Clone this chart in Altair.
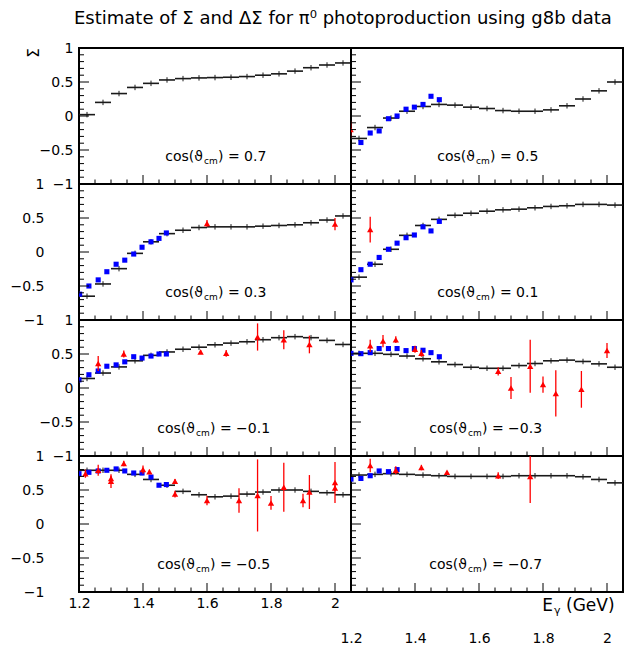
import altair as alt
import pandas as pd

FONT = "DejaVu Sans"
TITLE = "Estimate of Σ and ΔΣ for π⁰ photoproduction using g8b data"

# ---- data -------------------------------------------------------------
BIN_LO = [1.20, 1.25, 1.30, 1.35, 1.40, 1.45, 1.50, 1.55, 1.60,
          1.65, 1.70, 1.75, 1.80, 1.85, 1.90, 1.95, 2.00]
BIN_W = 0.05
HIST_ERR = [0.04, 0.04, 0.04, 0.04, 0.04, 0.04, 0.04, 0.04, 0.04,
            0.04, 0.04, 0.04, 0.04, 0.04, 0.04, 0.04, 0.04]

COS_LABELS = ["0.7", "0.5", "0.3", "0.1", "−0.1", "−0.3", "−0.5", "−0.7"]

HIST_P07 = [0.02, 0.20, 0.33, 0.42, 0.48, 0.53, 0.55, 0.56, 0.565, 0.57, 0.58, 0.60, 0.62, 0.66, 0.71, 0.75, 0.78]
HIST_P05 = [-0.33, -0.17, -0.03, 0.07, 0.14, 0.17, 0.16, 0.13, 0.11, 0.08, 0.07, 0.07, 0.09, 0.15, 0.25, 0.37, 0.50]
HIST_P03 = [-0.65, -0.47, -0.245, -0.02, 0.15, 0.27, 0.32, 0.36, 0.37, 0.37, 0.37, 0.38, 0.39, 0.40, 0.43, 0.47, 0.53]
HIST_P01 = [-0.37, -0.18, 0.04, 0.245, 0.39, 0.48, 0.54, 0.57, 0.60, 0.62, 0.63, 0.65, 0.67, 0.68, 0.70, 0.70, 0.69]
HIST_M01 = [0.14, 0.22, 0.31, 0.40, 0.48, 0.53, 0.57, 0.60, 0.635, 0.66, 0.68, 0.71, 0.74, 0.755, 0.74, 0.70, 0.64]
HIST_M03 = [0.51, 0.51, 0.495, 0.47, 0.43, 0.385, 0.345, 0.305, 0.29, 0.29, 0.33, 0.36, 0.40, 0.41, 0.39, 0.355, 0.305]
HIST_M05 = [0.79, 0.79, 0.79, 0.73, 0.655, 0.57, 0.48, 0.43, 0.40, 0.41, 0.44, 0.47, 0.50, 0.50, 0.48, 0.46, 0.43]
HIST_M07 = [0.72, 0.73, 0.74, 0.73, 0.72, 0.71, 0.70, 0.70, 0.70, 0.70, 0.71, 0.71, 0.71, 0.71, 0.695, 0.655, 0.605]

BLUE_X_P07 = []
BLUE_Y_P07 = []
BLUE_X_P05 = [1.231, 1.26, 1.288, 1.317, 1.344, 1.372, 1.398, 1.425, 1.45, 1.476]
BLUE_Y_P05 = [-0.39, -0.25, -0.22, -0.04, 0.0, 0.10, 0.13, 0.17, 0.29, 0.24]
BLUE_X_P03 = [1.202, 1.231, 1.26, 1.287, 1.316, 1.343, 1.371, 1.397, 1.425, 1.45, 1.473]
BLUE_Y_P03 = [-0.62, -0.50, -0.41, -0.29, -0.18, -0.12, -0.03, 0.07, 0.15, 0.20, 0.28]
BLUE_X_P01 = [1.2, 1.231, 1.26, 1.288, 1.317, 1.344, 1.372, 1.398, 1.425, 1.45, 1.476]
BLUE_Y_P01 = [-0.41, -0.26, -0.18, -0.08, 0.04, 0.13, 0.21, 0.25, 0.37, 0.31, 0.45]
BLUE_X_M01 = [1.2, 1.231, 1.26, 1.287, 1.316, 1.343, 1.371, 1.397, 1.425, 1.45, 1.473]
BLUE_Y_M01 = [0.12, 0.195, 0.25, 0.32, 0.34, 0.385, 0.46, 0.44, 0.47, 0.50, 0.50]
BLUE_X_M03 = [1.2, 1.231, 1.26, 1.288, 1.317, 1.344, 1.372, 1.398, 1.425, 1.45, 1.476]
BLUE_Y_M03 = [0.51, 0.505, 0.52, 0.58, 0.58, 0.58, 0.55, 0.58, 0.555, 0.52, 0.46]
BLUE_X_M05 = [1.2, 1.231, 1.26, 1.287, 1.316, 1.343, 1.371, 1.397, 1.425, 1.45, 1.473]
BLUE_Y_M05 = [0.74, 0.76, 0.78, 0.79, 0.81, 0.78, 0.75, 0.75, 0.69, 0.57, 0.58]
BLUE_X_M07 = [1.2, 1.231, 1.26, 1.288, 1.317, 1.344]
BLUE_Y_M07 = [0.66, 0.67, 0.71, 0.78, 0.77, 0.80]

RED_X_P07 = []
RED_Y_P07 = []
RED_E_P07 = []
RED_X_P05 = [1.199]
RED_Y_P05 = [-0.20]
RED_E_P05 = [0.12]
RED_X_P03 = [1.60, 2.00]
RED_Y_P03 = [0.42, 0.41]
RED_E_P03 = [0.05, 0.09]
RED_X_P01 = [1.26]
RED_Y_P01 = [0.33]
RED_E_P01 = [0.19]
RED_X_M01 = [1.26, 1.34, 1.58, 1.66, 1.758, 1.84, 1.92]
RED_Y_M01 = [0.36, 0.50, 0.53, 0.51, 0.75, 0.71, 0.64]
RED_E_M01 = [0.11, 0.05, 0.03, 0.05, 0.20, 0.14, 0.13]
RED_X_M03 = [1.26, 1.30, 1.34, 1.40, 1.42, 1.66, 1.70, 1.76, 1.80, 1.84, 1.92, 2.00]
RED_Y_M03 = [0.62, 0.69, 0.71, 0.57, 0.51, 0.245, 0.0, 0.32, 0.05, -0.08, -0.02, 0.55]
RED_E_M03 = [0.09, 0.09, 0.05, 0.05, 0.05, 0.06, 0.16, 0.39, 0.12, 0.34, 0.27, 0.11]
RED_X_M05 = [1.22, 1.26, 1.30, 1.30, 1.34, 1.40, 1.42, 1.50, 1.50, 1.60, 1.70, 1.758, 1.80, 1.84, 1.90, 1.92, 2.00, 2.00]
RED_Y_M05 = [0.74, 0.79, 0.63, 0.67, 0.89, 0.80, 0.77, 0.63, 0.44, 0.345, 0.345, 0.42, 0.31, 0.54, 0.345, 0.47, 0.61, 0.53]
RED_E_M05 = [0.06, 0.08, 0.10, 0.04, 0.04, 0.06, 0.03, 0.03, 0.05, 0.07, 0.18, 0.53, 0.10, 0.36, 0.10, 0.25, 0.30, 0.05]
RED_X_M07 = [1.26, 1.34, 1.42, 1.50, 1.66, 1.76]
RED_Y_M07 = [0.86, 0.79, 0.83, 0.76, 0.71, 0.70]
RED_E_M07 = [0.10, 0.06, 0.04, 0.02, 0.05, 0.39]

MAJOR_X = [1.2, 1.4, 1.6, 1.8, 2.0]
MINOR_X = [1.25, 1.3, 1.35, 1.45, 1.5, 1.55, 1.65, 1.7, 1.75, 1.85, 1.9, 1.95]
MAJOR_Y = [-1.0, -0.5, 0.0, 0.5, 1.0]
MINOR_Y = [-0.9, -0.8, -0.7, -0.6, -0.4, -0.3, -0.2, -0.1,
           0.1, 0.2, 0.3, 0.4, 0.6, 0.7, 0.8, 0.9]

PANELS = [
    (COS_LABELS[0], HIST_P07, BLUE_X_P07, BLUE_Y_P07, RED_X_P07, RED_Y_P07, RED_E_P07),
    (COS_LABELS[1], HIST_P05, BLUE_X_P05, BLUE_Y_P05, RED_X_P05, RED_Y_P05, RED_E_P05),
    (COS_LABELS[2], HIST_P03, BLUE_X_P03, BLUE_Y_P03, RED_X_P03, RED_Y_P03, RED_E_P03),
    (COS_LABELS[3], HIST_P01, BLUE_X_P01, BLUE_Y_P01, RED_X_P01, RED_Y_P01, RED_E_P01),
    (COS_LABELS[4], HIST_M01, BLUE_X_M01, BLUE_Y_M01, RED_X_M01, RED_Y_M01, RED_E_M01),
    (COS_LABELS[5], HIST_M03, BLUE_X_M03, BLUE_Y_M03, RED_X_M03, RED_Y_M03, RED_E_M03),
    (COS_LABELS[6], HIST_M05, BLUE_X_M05, BLUE_Y_M05, RED_X_M05, RED_Y_M05, RED_E_M05),
    (COS_LABELS[7], HIST_M07, BLUE_X_M07, BLUE_Y_M07, RED_X_M07, RED_Y_M07, RED_E_M07),
]

# ---- style --------------------------------------------------------------
W, H = 272, 136
HIST_C = "#1a1a1a"
BLUE = "#0000ff"
RED = "#ff0000"
XS = alt.Scale(domain=[1.2, 2.05], nice=False, zero=False)
YS = alt.Scale(domain=[-1, 1], nice=False, zero=False)


def panel(i, label, hist, bx, by, rx, ry, re):
    row, col = divmod(i, 2)
    xaxis = None
    yaxis = None
    if row == 3:
        xaxis = alt.Axis(values=MAJOR_X, format="~g", ticks=False, domain=False,
                         grid=False, labelPadding=4 if col == 0 else 39,
                         labelFont=FONT, labelFontSize=14, labelColor="black",
                         labelFlush=False, labelOverlap=False, title=None)
    if col == 0:
        yaxis = alt.Axis(values=MAJOR_Y, format="~g", ticks=False, domain=False,
                         grid=False, labelPadding=6 if row % 2 == 0 else 35,
                         labelFont=FONT, labelFontSize=14, labelColor="black",
                         labelFlush=False, labelOverlap=False, title=None)

    def X(f):
        return alt.X(f, type="quantitative", scale=XS, axis=xaxis)

    def Y(f):
        return alt.Y(f, type="quantitative", scale=YS, axis=yaxis)

    hdf = pd.DataFrame({
        "lo": BIN_LO,
        "hi": [b + BIN_W for b in BIN_LO],
        "c": [b + BIN_W / 2 for b in BIN_LO],
        "v": hist,
        "v1": [v - e for v, e in zip(hist, HIST_ERR)],
        "v2": [v + e for v, e in zip(hist, HIST_ERR)],
    })
    layers = [
        alt.Chart(hdf).mark_rule(color=HIST_C, strokeWidth=1.6, clip=True)
        .encode(x=X("lo"), x2=alt.X2("hi"), y=Y("v")),
        alt.Chart(hdf).mark_rule(color=HIST_C, strokeWidth=1, clip=True)
        .encode(x=X("c"), y=Y("v1"), y2=alt.Y2("v2")),
    ]
    if bx:
        bdf = pd.DataFrame({"x": bx, "y": by})
        layers.append(
            alt.Chart(bdf).mark_square(color=BLUE, size=26, opacity=1, clip=True)
            .encode(x=X("x"), y=Y("y")))
    if rx:
        rdf = pd.DataFrame({"x": rx, "y": ry,
                            "y1": [a - e for a, e in zip(ry, re)],
                            "y2": [a + e for a, e in zip(ry, re)]})
        layers.append(
            alt.Chart(rdf).mark_rule(color=RED, strokeWidth=1.3, clip=True)
            .encode(x=X("x"), y=Y("y1"), y2=alt.Y2("y2")))
        layers.append(
            alt.Chart(rdf).mark_point(shape="triangle-up", filled=True, color=RED,
                                      size=40, opacity=1, clip=True)
            .encode(x=X("x"), y=Y("y")))

    # inner ticks
    layers += [
        alt.Chart(pd.DataFrame({"v": MAJOR_Y})).mark_rule(color="black", strokeWidth=1)
        .encode(y=Y("v"), x=alt.value(0), x2=alt.value(10)),
        alt.Chart(pd.DataFrame({"v": MINOR_Y})).mark_rule(color="black", strokeWidth=1)
        .encode(y=Y("v"), x=alt.value(0), x2=alt.value(5)),
        alt.Chart(pd.DataFrame({"v": MAJOR_X})).mark_rule(color="black", strokeWidth=1)
        .encode(x=X("v"), y=alt.value(H), y2=alt.value(H - 9)),
        alt.Chart(pd.DataFrame({"v": MINOR_X})).mark_rule(color="black", strokeWidth=1)
        .encode(x=X("v"), y=alt.value(H), y2=alt.value(H - 4.5)),
    ]

    # cos(theta_cm) label
    neg = label.startswith("−")
    tdf = pd.DataFrame({"x": [1.5625 if neg else 1.5875], "y": [-0.6],
                        "t1": ["cos(ϑ"], "t2": ["cm"], "t3": [") = " + label]})
    layers += [
        alt.Chart(tdf).mark_text(align="right", baseline="middle", font=FONT,
                                 fontSize=14, color="black")
        .encode(x=X("x"), y=Y("y"), text="t1:N"),
        alt.Chart(tdf).mark_text(align="left", baseline="middle", font=FONT,
                                 fontSize=9, color="black", dx=1, dy=4)
        .encode(x=X("x"), y=Y("y"), text="t2:N"),
        alt.Chart(tdf).mark_text(align="left", baseline="middle", font=FONT,
                                 fontSize=14, color="black", dx=15)
        .encode(x=X("x"), y=Y("y"), text="t3:N"),
    ]

    if i == 0:
        layers += [
            alt.Chart(pd.DataFrame({"t": [TITLE]})).mark_text(
                align="left", baseline="top", font=FONT, fontSize=18, color="black")
            .encode(x=alt.value(-5), y=alt.value(-38), text="t:N"),
            alt.Chart(pd.DataFrame({"t": ["Σ"]})).mark_text(
                align="center", baseline="middle", font=FONT, fontSize=15,
                color="black", angle=270)
            .encode(x=alt.value(-45), y=alt.value(5), text="t:N"),
        ]
    if i == 7:
        adf = pd.DataFrame({"a": ["E"], "b": ["γ"], "c": ["(GeV)"]})
        layers += [
            alt.Chart(adf).mark_text(align="right", baseline="middle", font=FONT,
                                     fontSize=17, color="black")
            .encode(x=alt.value(202), y=alt.value(150), text="a:N"),
            alt.Chart(adf).mark_text(align="left", baseline="middle", font=FONT,
                                     fontSize=11, color="black")
            .encode(x=alt.value(203), y=alt.value(155), text="b:N"),
            alt.Chart(adf).mark_text(align="left", baseline="middle", font=FONT,
                                     fontSize=17, color="black")
            .encode(x=alt.value(215), y=alt.value(150), text="c:N"),
        ]

    return alt.layer(*layers).properties(width=W, height=H)


panels = [panel(i, *p) for i, p in enumerate(PANELS)]

chart = (
    alt.concat(*panels, columns=2, spacing=0, bounds="flush")
    .properties(padding={"left": 1, "top": 1, "right": 0, "bottom": 0})
    .configure_view(stroke="black", strokeWidth=2)
)

chart.save("out.html", embed_options={"renderer": "svg", "actions": False})
